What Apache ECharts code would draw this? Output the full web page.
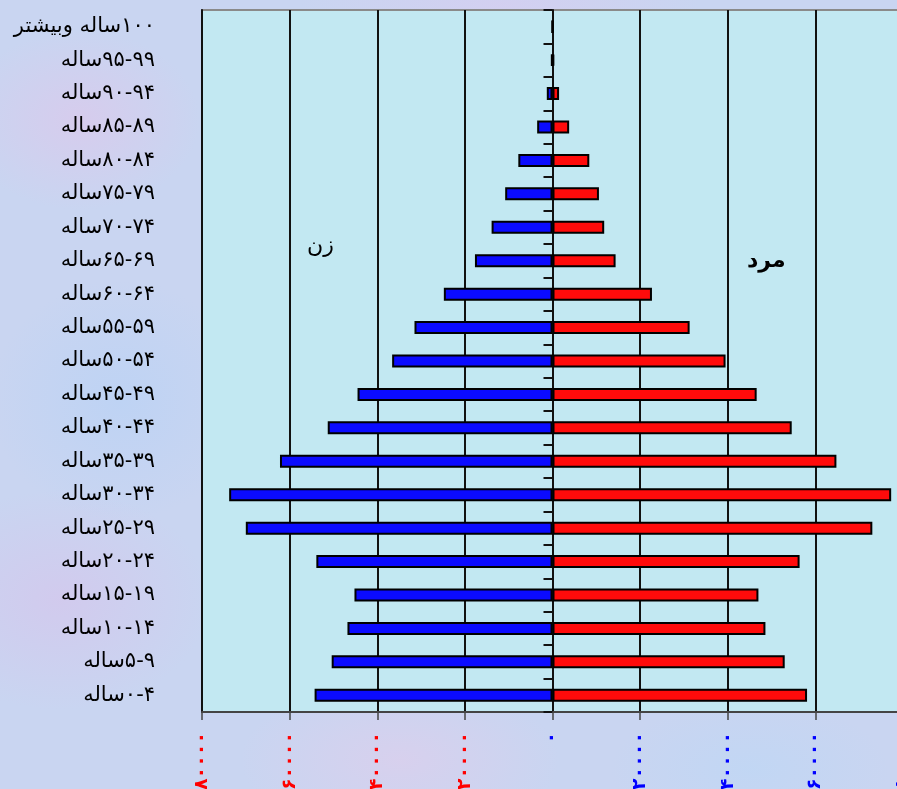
<!DOCTYPE html>
<html>
<head>
<meta charset="utf-8">
<script src="https://cdn.jsdelivr.net/npm/echarts@6/dist/echarts.min.js"></script>
<style>
html,body{margin:0;padding:0;}
body{
  width:897px;height:789px;overflow:hidden;
  background-color:#c9d5f1;
  background-image:
    radial-gradient(ellipse 120px 90px at 80px 120px, rgba(220,200,235,0.7), transparent),
    radial-gradient(ellipse 150px 110px at 60px 600px, rgba(215,195,235,0.6), transparent),
    radial-gradient(ellipse 160px 80px at 400px 760px, rgba(225,205,235,0.6), transparent),
    radial-gradient(ellipse 140px 70px at 750px 770px, rgba(190,215,245,0.7), transparent),
    radial-gradient(ellipse 130px 120px at 120px 400px, rgba(185,210,245,0.7), transparent),
    radial-gradient(ellipse 200px 40px at 500px 5px, rgba(215,205,240,0.7), transparent);
}
#chart{width:897px;height:789px;}
</style>
</head>
<body>
<div id="chart"></div>
<script>
// Age groups, bottom to top
var categories = ['۰-۴ساله','۵-۹ساله','۱۰-۱۴ساله','۱۵-۱۹ساله','۲۰-۲۴ساله','۲۵-۲۹ساله','۳۰-۳۴ساله','۳۵-۳۹ساله','۴۰-۴۴ساله','۴۵-۴۹ساله','۵۰-۵۴ساله','۵۵-۵۹ساله','۶۰-۶۴ساله','۶۵-۶۹ساله','۷۰-۷۴ساله','۷۵-۷۹ساله','۸۰-۸۴ساله','۸۵-۸۹ساله','۹۰-۹۴ساله','۹۵-۹۹ساله','۱۰۰ساله وبیشتر'];
// Men (مرد) – right side, red
var men = [58100, 53000, 48600, 47000, 56400, 73000, 77300, 64800, 54600, 46600, 39500, 31300, 22700, 14400, 11800, 10600, 8400, 3800, 1500, 400, 100];
// Women (زن) – left side, blue
var women = [54300, 50400, 46800, 45200, 53900, 70000, 73800, 62200, 51300, 44500, 36600, 31500, 24800, 17700, 13900, 10800, 7800, 3500, 1300, 300, 100];
// x-axis ticks
var xTicks = [-80000, -60000, -40000, -20000, 0, 20000, 40000, 60000, 80000];
var labelWomen = 'زن';
var labelMen = 'مرد';

var faDigits = '۰۱۲۳۴۵۶۷۸۹';
function toFa(n){ return String(n).replace(/[0-9]/g, function(d){ return faDigits[+d]; }); }

var chart = echarts.init(document.getElementById('chart'));
var gridLeft = 202, gridWidth = 701;
chart.setOption({
  animation:false,
  grid:{left:gridLeft, top:10, width:gridWidth, height:702, containLabel:false, outerBoundsMode:'none',
        show:true, backgroundColor:'#c2e8f2', borderColor:'#8a8a8a', borderWidth:2},
  xAxis:{
    type:'value', min:xTicks[0], max:xTicks[xTicks.length-1], interval:20000,
    axisLine:{show:true, onZero:false, lineStyle:{color:'#444', width:2}},
    axisTick:{show:true, length:8, lineStyle:{color:'#444', width:1.5}},
    splitLine:{show:true, lineStyle:{color:'#111', width:2}},
    axisLabel:{
      rotate:90, margin:20, fontSize:19, fontWeight:'bold', fontFamily:'DejaVu Sans',
      showMinLabel:true, showMaxLabel:true, hideOverlap:false,
      formatter:function(v){ return toFa(Math.abs(v)); },
      color:function(v){ return Number(v) < 0 ? '#ff0000' : '#0000ff'; }
    }
  },
  yAxis:[{
    type:'category', data:categories, position:'left',
    axisLine:{show:true, onZero:false, lineStyle:{color:'#111', width:2}},
    axisTick:{show:false},
    axisLabel:{
      margin:47, fontSize:21, color:'#000', fontFamily:'DejaVu Sans',
      formatter:function(v){ return '\u202B' + v + '\u202C'; }
    }
  },{
    type:'category', data:categories, position:'left', offset:-(gridWidth/2),
    axisLine:{show:true, onZero:false, lineStyle:{color:'#111', width:2}},
    axisTick:{show:true, length:9, lineStyle:{color:'#111', width:2}},
    axisLabel:{show:false}
  }],
  series:[{
    name:labelWomen, type:'bar', yAxisIndex:0,
    data:women.map(function(v){ return -v; }),
    barWidth:13, barGap:'-100%',
    itemStyle:{color:'#0b0bff', borderColor:'#000', borderWidth:2}
  },{
    name:labelMen, type:'bar', yAxisIndex:0,
    data:men, barWidth:13, barGap:'-100%',
    itemStyle:{color:'#ff0b0b', borderColor:'#000', borderWidth:2}
  }],
  graphic:[
    {type:'text', left:307, top:235, style:{text:labelWomen, fontSize:22, fill:'#000', fontFamily:'DejaVu Sans'}},
    {type:'text', left:747, top:250, style:{text:labelMen, fontSize:22, fontWeight:'bold', fill:'#000', fontFamily:'DejaVu Sans'}}
  ]
});
</script>
</body>
</html>
